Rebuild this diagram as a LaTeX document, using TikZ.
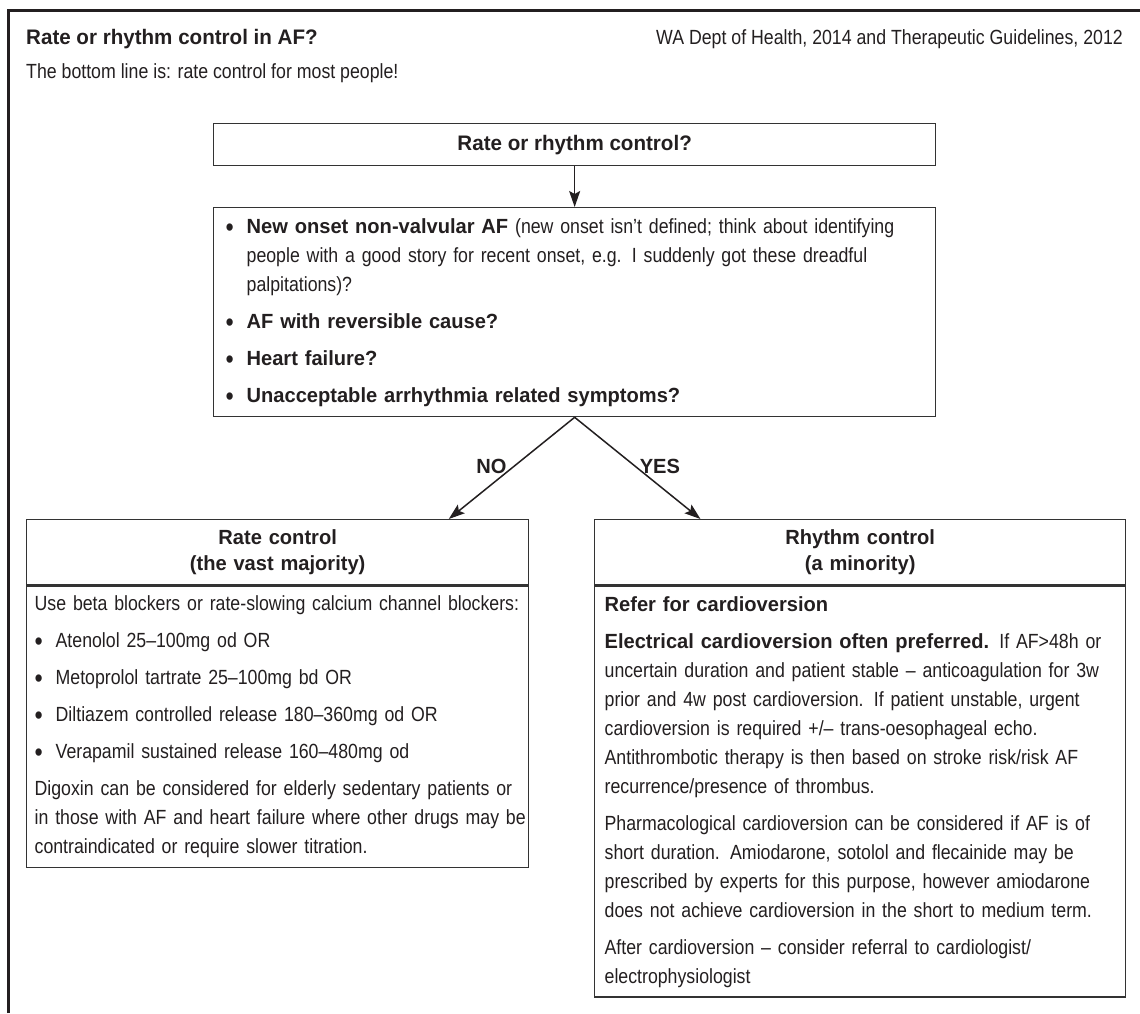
\documentclass[tikz,border=0pt]{standalone}
\usepackage{fontspec}
\setmainfont{Liberation Sans}[FakeStretch=0.865, BoldFeatures={FakeStretch=0.98}]
\usetikzlibrary{arrows.meta,calc}
\definecolor{ink}{HTML}{231F20}
\definecolor{rulec}{HTML}{333333}
\newcommand\li[1]{\mbox{#1}}
\newcommand\bul{\makebox[21pt][l]{\raisebox{-3pt}{\fontsize{27pt}{27pt}\selectfont •}}}
\newcommand\cnt{\hspace*{21pt}}
\begin{document}
\begin{tikzpicture}[x=1pt,y=-1pt,
  body/.style={font=\fontsize{20.5pt}{29pt}\selectfont, text=ink},
  hfont/.style={font=\bfseries\fontsize{21pt}{26pt}\selectfont, text=ink},
  box/.style={draw=rulec, line width=1.3pt},
  frame/.style={draw=ink, line width=3pt},
  arr/.style={draw=ink, line width=1.5pt, -{Stealth[length=16pt,width=11pt,inset=3pt]}},
  lab/.style={font=\bfseries\fontsize{20.5pt}{24pt}\selectfont, text=ink}]
\useasboundingbox (0,0) rectangle (1140,1013);
\fill[white] (0,0) rectangle (1140,1013);
\draw[frame] (8,1013) -- (8,10) -- (1140,10);

\node[hfont, anchor=base west, inner sep=0pt] (title) at (26,44) {Rate or rhythm control in AF?};
\node[body, anchor=base east, inner sep=0pt] (src) at (1123,44) {WA Dept of Health, 2014 and Therapeutic Guidelines, 2012};
\node[body, anchor=base west, inner sep=0pt] (sub) at (26,78) {The bottom line is: rate control for most people!};

% question box
\node[box, hfont, anchor=north west, minimum width=722pt, minimum height=42pt, inner sep=0pt] (q) at (213,123) {Rate or rhythm control?};

% criteria box
\node[box, body, anchor=north west, text width=698pt, inner xsep=12pt, inner ysep=5.5pt, align=left] (crit) at (213,207) {%
\li{\strut\bul\textbf{New onset non-valvular AF} (new onset isn’t defined; think about identifying}\\
\li{\cnt people with a good story for recent onset, e.g. I suddenly got these dreadful}\\
\li{\cnt palpitations)?}\\[8pt]
\li{\bul\textbf{AF with reversible cause?}}\\[8pt]
\li{\bul\textbf{Heart failure?}}\\[8pt]
\li{\bul\textbf{Unacceptable arrhythmia related symptoms?}\strut}};

% rate control box
\node[box, font=\bfseries\fontsize{20.5pt}{26pt}\selectfont, text=ink, anchor=north west, text width=486pt, inner xsep=8pt, inner ysep=6.5pt, align=center] (lhead) at (26,519) {\strut Rate control\\(the vast majority)\strut};
\node[box, body, anchor=north west, text width=486pt, inner xsep=8pt, inner ysep=4.7pt, align=left] (lbody) at (lhead.south west) {%
\li{\strut Use beta blockers or rate-slowing calcium channel blockers:}\\[8pt]
\li{\bul Atenolol 25–100mg od OR}\\[8pt]
\li{\bul Metoprolol tartrate 25–100mg bd OR}\\[8pt]
\li{\bul Diltiazem controlled release 180–360mg od OR}\\[8pt]
\li{\bul Verapamil sustained release 160–480mg od}\\[8pt]
\li{Digoxin can be considered for elderly sedentary patients or}\\
\li{in those with AF and heart failure where other drugs may be}\\
\li{contraindicated or require slower titration.\strut}};

% rhythm control box
\node[box, font=\bfseries\fontsize{20.5pt}{26pt}\selectfont, text=ink, anchor=north west, text width=511pt, inner xsep=10pt, inner ysep=6.5pt, align=center] (rhead) at (594,519) {\strut Rhythm control\\(a minority)\strut};
\node[box, body, anchor=north west, text width=511pt, inner xsep=10pt, inner ysep=5pt, align=left] (rbody) at (rhead.south west) {%
\li{\strut\textbf{Refer for cardioversion}}\\[8pt]
\li{\textbf{Electrical cardioversion often preferred.} If AF>48h or}\\
\li{uncertain duration and patient stable – anticoagulation for 3w}\\
\li{prior and 4w post cardioversion. If patient unstable, urgent}\\
\li{cardioversion is required +/– trans-oesophageal echo.}\\
\li{Antithrombotic therapy is then based on stroke risk/risk AF}\\
\li{recurrence/presence of thrombus.}\\[8pt]
\li{Pharmacological cardioversion can be considered if AF is of}\\
\li{short duration. Amiodarone, sotolol and flecainide may be}\\
\li{prescribed by experts for this purpose, however amiodarone}\\
\li{does not achieve cardioversion in the short to medium term.}\\[8pt]
\li{After cardioversion – consider referral to cardiologist/}\\
\li{electrophysiologist\strut}};

% connectors
\draw[arr] (q.south) -- (crit.north);
\coordinate (ltip) at ($(lhead.north west)!0.84!(lhead.north east)$);
\coordinate (rtip) at ($(rhead.north west)!0.2!(rhead.north east)$);
\draw[arr] (crit.south) -- node[lab, pos=0.48, anchor=east, inner sep=7pt] {NO} (ltip);
\draw[arr] (crit.south) -- node[lab, pos=0.48, anchor=west, inner sep=4pt] {YES} (rtip);
\end{tikzpicture}
\end{document}
